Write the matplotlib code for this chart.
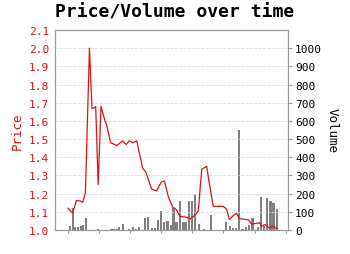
import matplotlib
matplotlib.use('Agg')
import matplotlib.pyplot as plt
from matplotlib.ticker import FormatStrFormatter, MultipleLocator

# price line (time in days, ticks every 10)
price_t = [0.0, 1.5, 2.7, 3.9, 4.7, 5.6, 6.9, 7.7, 8.3, 8.9, 9.7, 10.6, 11.9, 12.4,
           13.7, 15.7, 17.6, 18.7, 19.7, 20.8, 22.1, 23.1, 24.0, 25.0, 26.9, 28.5,
           29.4, 30.1, 31.0, 32.3, 33.7, 34.7, 36.0, 38.2, 39.2, 40.6, 41.9, 43.0,
           44.6, 45.4, 46.7, 49.9, 51.0, 51.9, 53.2, 54.2, 55.1, 56.4, 58.0, 59.1,
           60.7, 61.5, 62.3, 63.3, 64.7, 65.8, 67.1]
price = [1.12, 1.093, 1.162, 1.16, 1.152, 1.205, 2.00, 1.67, 1.67, 1.68, 1.25, 1.68,
         1.60, 1.58, 1.48, 1.465, 1.49, 1.47, 1.49, 1.48, 1.49, 1.41, 1.34, 1.32,
         1.225, 1.215, 1.245, 1.265, 1.27, 1.18, 1.125, 1.115, 1.075, 1.07, 1.06,
         1.078, 1.105, 1.335, 1.35, 1.26, 1.13, 1.13, 1.115, 1.058, 1.08, 1.092,
         1.062, 1.06, 1.055, 1.032, 1.037, 1.04, 1.022, 1.03, 1.011, 1.022, 1.008]

# volume bars
vol_t = [0.55, 1.5, 2.35, 3.2, 4.1, 4.9, 5.8, 9.7, 14.0, 14.8, 15.7, 16.5, 17.8,
         19.7, 20.8, 21.9, 22.9, 24.8, 25.8, 26.9, 28.0, 29.0, 29.9, 31.0, 32.0,
         33.0, 33.9, 34.9, 35.9, 36.9, 37.8, 38.8, 39.9, 40.9, 42.0, 43.8, 46.0,
         50.9, 52.0, 53.0, 54.0, 55.0, 56.1, 57.2, 58.2, 59.3, 61.2, 62.1, 63.0,
         64.1, 65.1, 66.1, 67.1]
volume = [22, 120, 18, 18, 20, 25, 68, 5, 5, 5, 8, 15, 32,
          5, 15, 5, 15, 65, 70, 10, 10, 55, 102, 45, 50,
          25, 119, 42, 158, 42, 42, 162, 157, 200, 35, 4, 80,
          45, 20, 10, 10, 550, 5, 18, 30, 65, 18, 180, 22,
          175, 158, 150, 115]

red = '#dd1111'
grey = '#999999'

plt.rcParams['font.family'] = ['DejaVu Sans Mono']

fig = plt.figure(figsize=(3.5, 2.55), dpi=100)
ax = fig.add_axes([55/350, 24/255, 233/350, 200/255])
ax2 = ax.twinx()

ax2.bar(vol_t, volume, width=0.7, color='#808080', zorder=2)
ax.plot(price_t, price, color=red, linewidth=0.9, zorder=3)

# line on top of bars
ax.set_zorder(ax2.get_zorder() + 1)
ax.patch.set_visible(False)

ax.set_xlim(-4.18, 70.74)
ax.set_xticks(range(0, 71, 10))
ax.set_xticklabels([])

ax.set_ylim(1.0, 2.1)
ax.yaxis.set_major_locator(MultipleLocator(0.1))
ax.yaxis.set_major_formatter(FormatStrFormatter('%.1f'))
ax.grid(axis='y', color='#dddddd', linestyle='--', linewidth=0.6)

ax2.set_ylim(0, 1100)
ax2.set_yticks(range(0, 1001, 100))

ax.tick_params(axis='y', colors=red, labelsize=8, length=0, pad=4)
ax.tick_params(axis='x', color=grey, length=2.5)
ax2.tick_params(axis='y', labelsize=8, color=grey, length=3, pad=2)

for a in (ax, ax2):
    for s in a.spines.values():
        s.set_color(grey)
        s.set_linewidth(0.8)

ax.set_ylabel('Price', color=red, fontsize=9, labelpad=4)
ax2.set_ylabel('Volume', fontsize=9, rotation=270, labelpad=12)

fig.suptitle('Price/Volume over time', fontsize=13, fontweight='bold', y=0.985)

fig.savefig('out.png', dpi=100)
